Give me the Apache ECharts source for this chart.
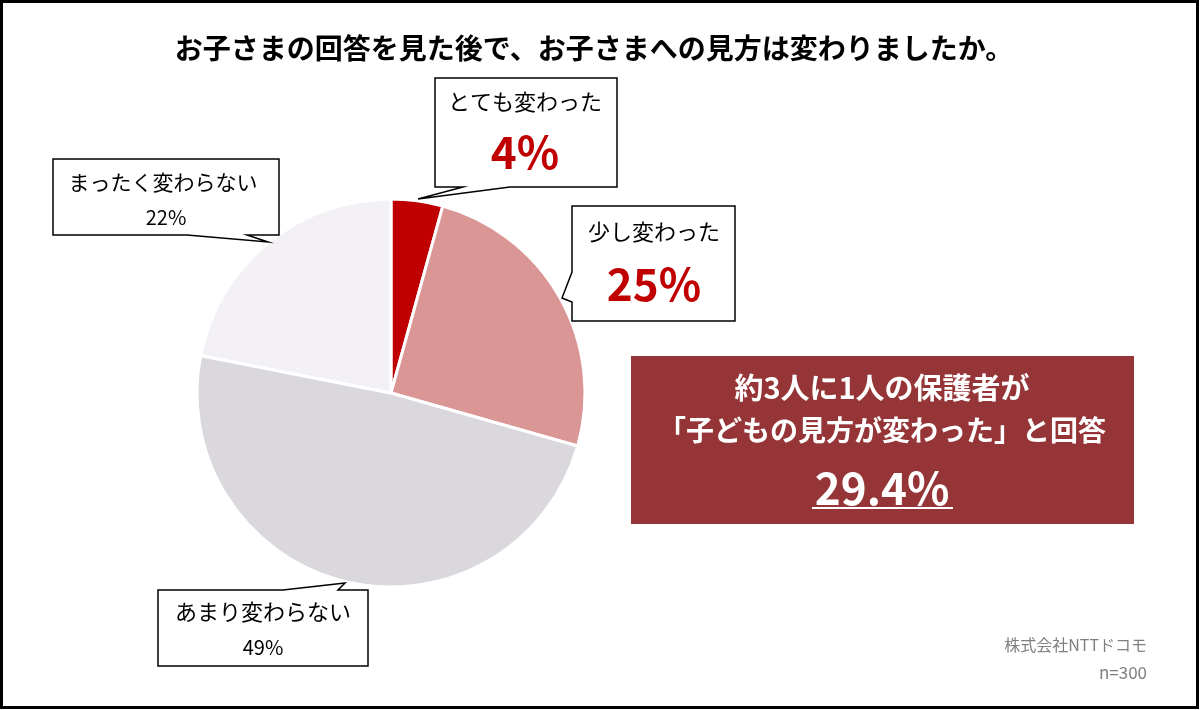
<!DOCTYPE html>
<html>
<head>
<meta charset="utf-8">
<script src="https://cdn.jsdelivr.net/npm/echarts@6/dist/echarts.min.js"></script>
<style>
  html, body { margin: 0; padding: 0; background: #fff; }
  #chart { width: 1200px; height: 710px; }
</style>
</head>
<body>
<div id="chart"></div>
<script>
// 回答の内訳（%）
const categories = ['とても変わった', '少し変わった', 'あまり変わらない', 'まったく変わらない'];
const values = [4.3, 25.1, 48.7, 21.9];
const colors = ['#C00000', '#DA9694', '#DAD8DD', '#F3F1F5'];
const titleText = 'お子さまの回答を見た後で、お子さまへの見方は変わりましたか。';
const highlightLines = ['約3人に1人の保護者が', '「子どもの見方が変わった」と回答'];
const sourceLines = ['株式会社NTTドコモ', 'n=300'];

const FONT = '"Noto Sans CJK JP", "Noto Sans", sans-serif';
const pct = (v) => Math.round(v) + '%';
const changed = (values[0] + values[1]).toFixed(1) + '%';

const chart = echarts.init(document.getElementById('chart'));

// 吹き出し（枠＋しっぽ）
function bubble(points) {
  return {
    type: 'polygon', z: 10,
    shape: { points: points },
    style: { fill: '#fff', stroke: '#000', lineWidth: 1.5 }
  };
}
function txt(x, y, text, size, opt) {
  opt = opt || {};
  return {
    type: 'text', z: 11, x: x, y: y,
    style: {
      text: text, fontFamily: FONT, fontSize: size,
      fontWeight: opt.bold ? 'bold' : 'normal',
      fill: opt.color || '#000',
      align: opt.align || 'center', verticalAlign: 'middle'
    }
  };
}

const option = {
  animation: false,
  backgroundColor: '#fff',
  series: [{
    type: 'pie',
    center: [391, 393],
    radius: 194,
    startAngle: 90,
    clockwise: true,
    label: { show: false },
    labelLine: { show: false },
    itemStyle: { borderColor: '#fff', borderWidth: 3 },
    emphasis: { disabled: true },
    data: categories.map((c, i) => ({ name: c, value: values[i], itemStyle: { color: colors[i] } }))
  }],
  graphic: [
    // 外枠
    { type: 'rect', z: 20, shape: { x: 1.5, y: 1.5, width: 1196, height: 706 },
      style: { fill: 'none', stroke: '#000', lineWidth: 3 } },
    txt(594, 48, titleText, 28, { bold: true }),

    bubble([[435, 78], [617, 78], [617, 187], [510, 187], [418, 199], [463, 187], [435, 187]]),
    txt(525, 102, categories[0], 22),
    txt(525, 152, pct(values[0]), 44, { bold: true, color: '#C00000' }),

    bubble([[572, 206], [735, 206], [735, 321], [572, 321], [572, 302], [562, 298], [572, 272]]),
    txt(654, 232, categories[1], 22),
    txt(654, 284, pct(values[1]), 44, { bold: true, color: '#C00000' }),

    bubble([[53, 159], [279, 159], [279, 235], [247, 235], [268, 242], [187, 235], [53, 235]]),
    txt(163, 182, categories[3], 21),
    txt(166, 217, pct(values[3]), 20),

    bubble([[158, 590], [283, 590], [345, 583], [338, 590], [368, 590], [368, 666], [158, 666]]),
    txt(263, 612, categories[2], 22),
    txt(263, 647, pct(values[2]), 20),

    // まとめボックス
    { type: 'rect', z: 10, shape: { x: 631, y: 356, width: 503, height: 168 },
      style: { fill: '#963537' } },
    txt(882, 388, highlightLines[0], 29, { bold: true, color: '#fff' }),
    txt(882, 430, highlightLines[1], 28, { bold: true, color: '#fff' }),
    txt(882, 488, changed, 44, { bold: true, color: '#fff' }),
    { type: 'line', z: 11, shape: { x1: 812, y1: 508, x2: 953, y2: 508 },
      style: { stroke: '#fff', lineWidth: 2 } },

    txt(1147, 645, sourceLines[0], 16, { color: '#7f7f7f', align: 'right' }),
    txt(1147, 673, sourceLines[1], 17, { color: '#7f7f7f', align: 'right' })
  ]
};
chart.setOption(option);
</script>
</body>
</html>
